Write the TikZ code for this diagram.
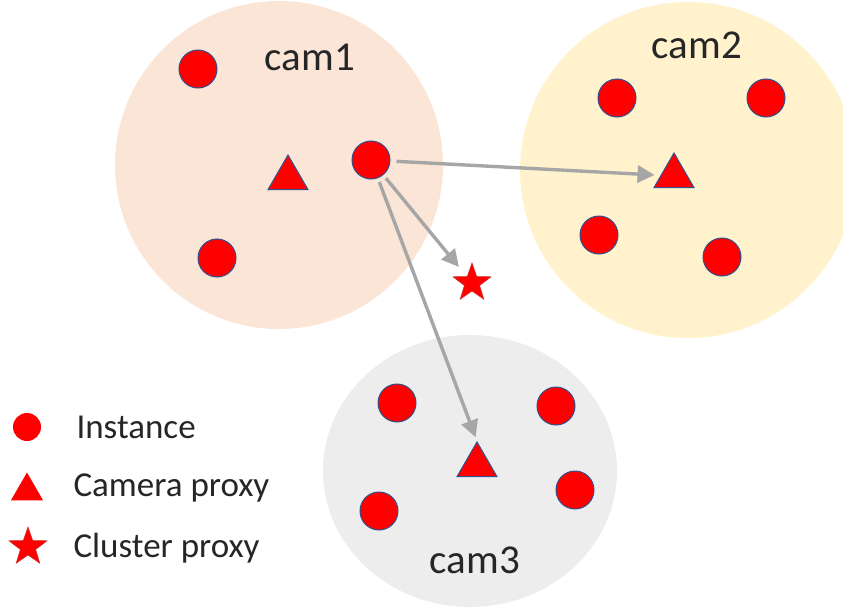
\documentclass[tikz,border=0pt]{standalone}
\usepackage{fontspec}
\setmainfont{Carlito}
\usetikzlibrary{shapes, arrows.meta, positioning}

\definecolor{camone}{HTML}{FBE5D6}
\definecolor{camtwo}{HTML}{FFF2CC}
\definecolor{camthree}{HTML}{EDEDED}
\definecolor{edgeblue}{HTML}{2F528F}
\definecolor{linkgray}{HTML}{A6A6A6}

\begin{document}
\begin{tikzpicture}[x=1pt, y=-1pt,
	inst/.style={circle, draw=edgeblue, line width=1pt, fill=red, minimum size=38pt, inner sep=0pt},
	camproxy/.style={regular polygon, regular polygon sides=3, draw=edgeblue, line width=1pt, fill=red, minimum size=46pt, inner sep=0pt},
	clusproxy/.style={star, star points=5, star point ratio=2.5, fill=red, draw=red!60!gray, line width=0.6pt, minimum size=40pt, inner sep=0pt},
	link/.style={draw=linkgray, line width=3.4pt, -{Triangle[length=17pt,width=17pt]}},
	camlabel/.style={font=\fontsize{41}{48}\selectfont, text=black!85},
	legtext/.style={font=\fontsize{35}{42}\selectfont, text=black!85, anchor=west}]
	\useasboundingbox (0,0) rectangle (843,610);
	% camera regions
	\fill[camone] (279,165) circle[radius=164];
	\fill[camtwo] (688,170) circle[radius=168];
	\fill[camthree] (470,471) ellipse[x radius=147, y radius=136];
	\node[camlabel] (lab1) at (310,57) {cam1};
	\node[camlabel] (lab2) at (697,45) {cam2};
	\node[camlabel] (lab3) at (475,560) {cam3};
	% cam1
	\node[inst] (a1) at (198,69) {};
	\node[inst] (a2) at (371,160) {};
	\node[inst] (a3) at (217,258) {};
	\node[camproxy] (ta) at (288,178) {};
	% cam2
	\node[inst] (b1) at (617,98) {};
	\node[inst] (b2) at (766,98) {};
	\node[inst] (b3) at (599,235) {};
	\node[inst] (b4) at (722,257) {};
	\node[camproxy] (tb) at (674,176) {};
	% cam3
	\node[inst] (c1) at (397,403) {};
	\node[inst] (c2) at (556,406) {};
	\node[inst] (c3) at (379,511) {};
	\node[inst] (c4) at (575,490) {};
	\node[camproxy] (tc) at (477,465) {};
	% cluster proxy
	\node[clusproxy] (cp) at (472,283) {};
	% links
	\draw[link, shorten <=6pt, shorten >=6pt] (a2) -- (tb);
	\draw[link, shorten <=4pt, shorten >=12pt] (a2) -- (cp);
	\draw[link, shorten <=4pt, shorten >=4pt] (a2) -- (tc.corner 1);
	% legend
	\node[circle, fill=red, minimum size=28pt, inner sep=0pt] (lg1) at (27,427) {};
	\node[regular polygon, regular polygon sides=3, fill=red, minimum size=37pt, inner sep=0pt] (lg2) at (27,491) {};
	\node[clusproxy, minimum size=40pt] (lg3) at (28,547) {};
	\node[legtext] (lt1) at (73,427) {Instance};
	\node[legtext] (lt2) at (70,488) {Camera proxy};
	\node[legtext] (lt3) at (70,548) {Cluster proxy};
\end{tikzpicture}
\end{document}
